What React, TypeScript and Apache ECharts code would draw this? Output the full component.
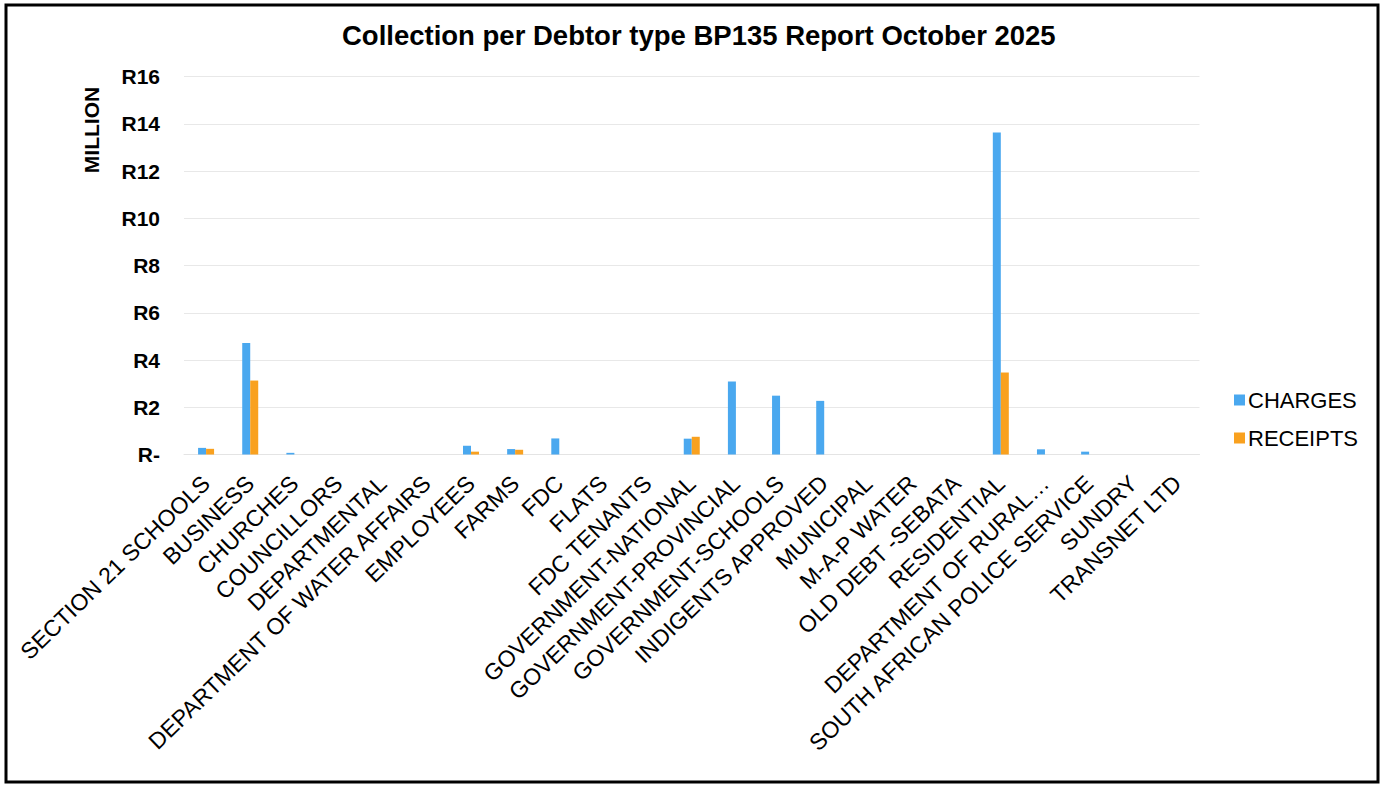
import React, { useEffect, useRef } from "react";
import * as echarts from "echarts";

// Debtor types on the category axis
const categories = [
  "SECTION 21 SCHOOLS",
  "BUSINESS",
  "CHURCHES",
  "COUNCILLORS",
  "DEPARTMENTAL",
  "DEPARTMENT OF WATER AFFAIRS",
  "EMPLOYEES",
  "FARMS",
  "FDC",
  "FLATS",
  "FDC TENANTS",
  "GOVERNMENT-NATIONAL",
  "GOVERNMENT-PROVINCIAL",
  "GOVERNMENT-SCHOOLS",
  "INDIGENTS APPROVED",
  "MUNICIPAL",
  "M-A-P WATER",
  "OLD DEBT -SEBATA",
  "RESIDENTIAL",
  "DEPARTMENT OF RURAL…",
  "SOUTH AFRICAN POLICE SERVICE",
  "SUNDRY",
  "TRANSNET LTD",
];

// Values in millions of rand
const charges = [
  0.28, 4.72, 0.07, 0, 0, 0, 0.37, 0.23, 0.68, 0, 0, 0.67, 3.09, 2.49, 2.27,
  0, 0, 0, 13.63, 0.22, 0.12, 0, 0,
];
const receipts = [
  0.24, 3.13, 0, 0, 0, 0, 0.12, 0.2, 0, 0, 0, 0.75, 0, 0, 0, 0, 0, 0, 3.47,
  0, 0, 0, 0,
];

const seriesNames = ["CHARGES", "RECEIPTS"];
const yTicks = { min: 0, max: 16, interval: 2 };
const titleText = "Collection per Debtor type BP135 Report October 2025";
const unitText = "MILLION";

const FONT = "Arial, 'Liberation Sans', Helvetica, sans-serif";

export default function App() {
  const ref = useRef<HTMLDivElement>(null);

  useEffect(() => {
    if (!ref.current) return;
    const chart = echarts.init(ref.current, undefined, { renderer: "svg" });
    chart.setOption({
      animation: false,
      backgroundColor: "#ffffff",
      title: {
        text: titleText,
        left: 342,
        top: 21,
        padding: 0,
        textStyle: {
          fontFamily: FONT,
          fontSize: 27.5,
          fontWeight: "bold",
          color: "#000000",
        },
      },
      legend: {
        orient: "vertical",
        left: 1229,
        top: 384,
        itemWidth: 11,
        itemHeight: 11,
        itemGap: 16,
        icon: "rect",
        textStyle: {
          fontFamily: FONT,
          fontSize: 22,
          color: "#000000",
          lineHeight: 22,
          padding: [0, 0, 0, -2],
        },
        data: seriesNames,
      },
      grid: {
        left: 184,
        right: 186.5,
        top: 76.5,
        bottom: 330.5,
        containLabel: false,
      },
      xAxis: {
        type: "category",
        data: categories,
        axisLine: { show: true, lineStyle: { color: "#e4e4e4", width: 1 } },
        axisTick: { show: false },
        axisLabel: {
          interval: 0,
          rotate: 44,
          margin: 25,
          fontFamily: FONT,
          fontSize: 23,
          color: "#000000",
        },
      },
      yAxis: {
        type: "value",
        min: yTicks.min,
        max: yTicks.max,
        interval: yTicks.interval,
        axisLine: { show: false },
        axisTick: { show: false },
        splitLine: { lineStyle: { color: "#e8e8e8", width: 1 } },
        axisLabel: {
          margin: 24,
          fontFamily: FONT,
          fontSize: 21,
          fontWeight: "bold",
          color: "#000000",
          formatter: (v: number) => (v === 0 ? "R-" : "R" + v),
        },
      },
      series: [
        {
          name: seriesNames[0],
          type: "bar",
          data: charges,
          barWidth: 8,
          barGap: "0%",
          itemStyle: { color: "#4aa8ef" },
        },
        {
          name: seriesNames[1],
          type: "bar",
          data: receipts,
          barWidth: 8,
          barGap: "0%",
          itemStyle: { color: "#f9a11f" },
        },
      ],
      graphic: [
        {
          type: "text",
          x: 91,
          y: 130,
          rotation: Math.PI / 2,
          style: {
            text: unitText,
            fontFamily: FONT,
            fontSize: 21,
            fontWeight: "bold",
            fill: "#000000",
            textAlign: "center",
            textVerticalAlign: "middle",
          },
        },
        {
          type: "rect",
          shape: { x: 6, y: 5, width: 1372, height: 777 },
          style: { fill: "none", stroke: "#000000", lineWidth: 3 },
          silent: true,
        },
      ],
    });
    return () => chart.dispose();
  }, []);

  return (
    <div
      ref={ref}
      style={{
        position: "fixed",
        left: 0,
        top: 0,
        width: 1386,
        height: 785,
        background: "#ffffff",
      }}
    />
  );
}
